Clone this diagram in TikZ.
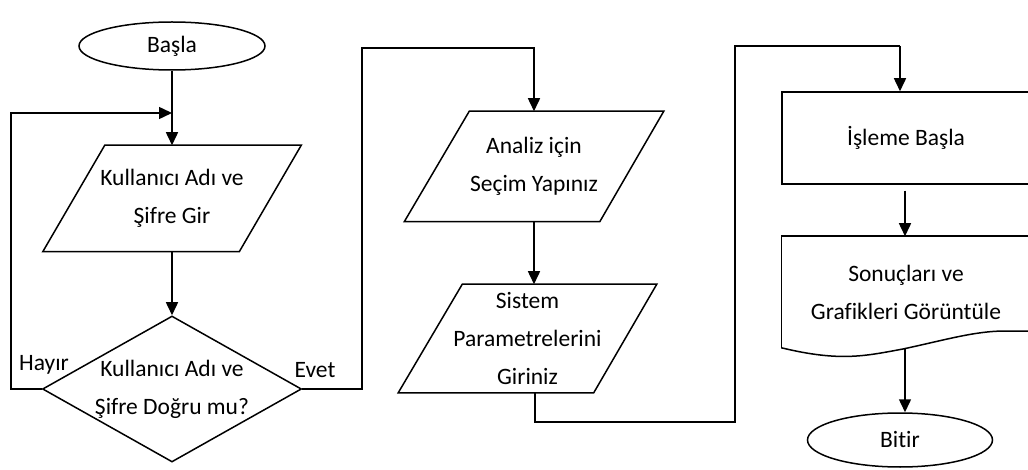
\documentclass[tikz,border=0pt]{standalone}
\usepackage{fontspec}
\setmainfont{Carlito}[Ligatures=NoCommon]
\usetikzlibrary{shapes.geometric,arrows.meta,calc}
\begin{document}
\begin{tikzpicture}[x=1pt,y=-1pt,line width=1.5pt,
  every node/.style={font=\fontsize{23.5}{38}\selectfont, align=center, inner sep=0pt},
  term/.style={ellipse, draw, minimum width=186pt},
  boxnode/.style={draw, rectangle},
  decnode/.style={diamond, draw},
  arr/.style={-{Triangle[length=13pt,width=12pt]}}]
\useasboundingbox (0,0) rectangle (1028,470);
\clip (0,0) rectangle (1028,470);

% nodes
\node[term, minimum height=48pt] (start) at (172,46) {Başla};
\node[minimum width=257pt, minimum height=105pt] (p1) at (172,198.5) {Kullanıcı Adı ve\\Şifre Gir};
\draw ([xshift=62pt]p1.north west) -- (p1.north east) -- ([xshift=-62pt]p1.south east) -- (p1.south west) -- cycle;
\node[decnode, minimum width=259pt, minimum height=146pt] (dec) at (172,389) {};
\node (dect) at (172,389) {Kullanıcı Adı ve\\Şifre Doğru mu?};
\node (hayir) at (44,365) {Hayır};
\node (evet) at (315,370) {Evet};

\node[minimum width=258pt, minimum height=109pt] (p2) at (534,166.5) {Analiz için\\Seçim Yapınız};
\draw ([xshift=65pt]p2.north west) -- (p2.north east) -- ([xshift=-64pt]p2.south east) -- (p2.south west) -- cycle;
\node[minimum width=257pt, minimum height=107pt] (p3) at (527.5,338.5) {Sistem\\Parametrelerini\\Giriniz};
\draw ([xshift=64pt]p3.north west) -- (p3.north east) -- ([xshift=-63pt]p3.south east) -- (p3.south west) -- cycle;

\node[boxnode, minimum width=248pt, minimum height=92pt] (proc) at (906,138) {İşleme Başla};
\node[minimum width=248pt, minimum height=110pt] (doc) at (906,292) {Sonuçları ve\\Grafikleri Görüntüle};
\draw (doc.south west) -- (doc.north west) -- (doc.north east);
\draw (doc.south west) .. controls (840,362) and (865,356) .. (903,349)
      .. controls (945,340) and (975,331) .. (1005,331) -- (1040,331);
\node[term, minimum width=185pt, minimum height=54pt] (end) at (900,440) {Bitir};

% coordinates
\coordinate (loopc) at (11,113);
\coordinate (merge) at (172,113);
\coordinate (e1) at (362,48);
\coordinate (q1) at (535,422);
\coordinate (q2) at (735,46);
\coordinate (q3) at (900,46);
\coordinate (w) at (905,349);

% connectors
\draw[arr] (start.south) -- (p1.north);
\draw[arr] (dec.west) -| (loopc) -- (merge);
\draw[arr] (p1.south) -- (dec.north);
\draw[arr] (dec.east) -| (e1) -| (p2.north);
\draw[arr] (p2.south) -- (p2.south |- p3.north);
\draw (q1 |- p3.south) -- (q1) -| (q2) -- (q3);
\draw[arr] (q3) -- (q3 |- proc.north);
\draw[arr, shorten <=6pt] ([xshift=-1pt]proc.south) -- ([xshift=-1pt]proc.south |- doc.north);
\draw[arr] (w) -- (w |- end.north);
\end{tikzpicture}
\end{document}
